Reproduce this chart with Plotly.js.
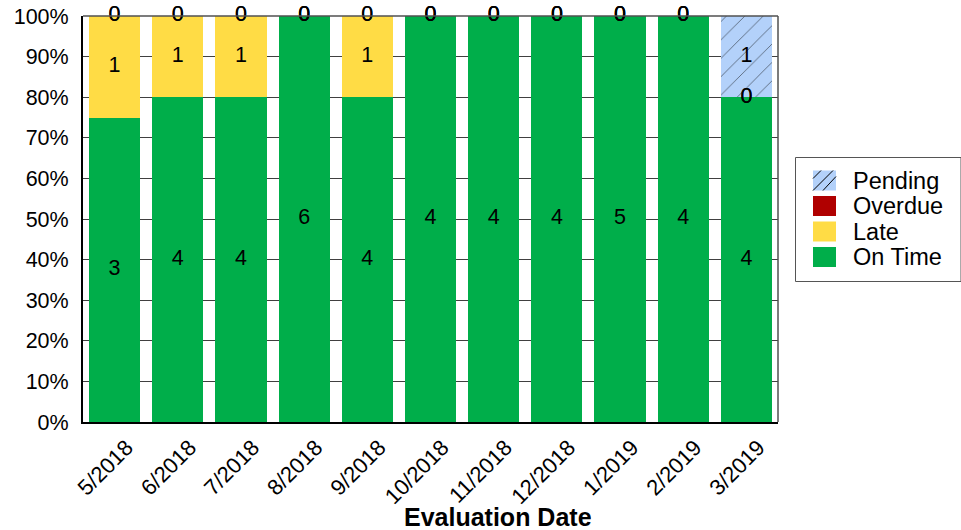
<!DOCTYPE html>
<html>
<head>
<meta charset="utf-8">
<script src="https://cdn.plot.ly/plotly-3.0.1.min.js"></script>
<style>html,body{margin:0;padding:0;background:#fff;}#chart{width:961px;height:530px;}</style>
</head>
<body>
<div id="chart"></div>
<script>
const categories = ["5/2018","6/2018","7/2018","8/2018","9/2018","10/2018","11/2018","12/2018","1/2019","2/2019","3/2019"];
const onTime  = [3,4,4,6,4,4,4,4,5,4,4];
const late    = [1,1,1,0,1,0,0,0,0,0,0];
const overdue = [0,0,0,0,0,0,0,0,0,0,0];
const pending = [0,0,0,0,0,0,0,0,0,0,1];
const yTicks = [0,10,20,30,40,50,60,70,80,90,100];
const seriesNames = ["On Time","Late","Overdue","Pending"];
const seriesColors = ["#00ae4a","#ffdc45","#b00000","#b3d1fa"];

const FONT = "Liberation Sans, Arial, sans-serif";
const W = 961, H = 530, ML = 83, MR = 183, MT = 16, MB = 108;
const PW = W - ML - MR, PH = H - MT - MB;
const px = x => (x - ML) / PW;
const py = y => (H - MB - y) / PH;

const seriesVals = [onTime, late, overdue, pending];
const totals = categories.map((c,i)=>seriesVals.reduce((s,v)=>s+v[i],0));

const traces = [];
seriesVals.forEach((vals,k)=>{
  const t = {type:"bar", name:seriesNames[k], x:categories, y:vals,
    marker:{color:seriesColors[k], line:{width:0}}, hoverinfo:"none", showlegend:false};
  if(seriesNames[k]==="Pending"){
    t.marker.pattern = {shape:"/", bgcolor:seriesColors[k], fgcolor:"#000", size:13, solidity:0.07, fillmode:"overlay"};
  }
  traces.push(t);
});
// value labels at segment midpoints (in percent of the bar total)
const cum = categories.map(()=>0);
seriesVals.forEach(vals=>{
  const ys = vals.map((v,i)=>{ const mid=(cum[i]+v/2)/totals[i]*100; cum[i]+=v; return mid; });
  traces.push({type:"scatter", mode:"text", x:categories, y:ys, text:vals.map(String),
    textfont:{family:FONT, size:21.5, color:"#000"}, showlegend:false, hoverinfo:"none", cliponaxis:false});
});

// legend (drawn as shapes + text)
const shapes = [
  {type:"line", xref:"paper", yref:"paper", x0:0, x1:1, y0:1, y1:1, line:{color:"#505050", width:1.5}},
  {type:"line", xref:"paper", yref:"paper", x0:1, x1:1, y0:0, y1:1, line:{color:"#505050", width:1.5}},
  {type:"rect", xref:"paper", yref:"paper", x0:px(795.5), x1:px(961), y0:py(157.5), y1:py(281.5), line:{color:"#555", width:1}, fillcolor:"rgba(0,0,0,0)"}
];
const annotations = [];
const legendOrder = [3,2,1,0];
const rowCenters = [180.5, 206, 231.5, 257];
legendOrder.forEach((k,r)=>{
  const cy = rowCenters[r];
  const x0 = 813, x1 = 836, y0 = cy-10, y1 = cy+10;
  shapes.push({type:"rect", xref:"paper", yref:"paper", x0:px(x0), x1:px(x1), y0:py(y1), y1:py(y0), fillcolor:seriesColors[k], line:{width:0}});
  if(seriesNames[k]==="Pending"){
    const segs = [[x0,y0+8,x0+8,y0],[x0,y1,x1-3,y0],[x0+10,y1,x1,y0+6]];
    segs.forEach(s=>shapes.push({type:"line", xref:"paper", yref:"paper", x0:px(s[0]), y0:py(s[1]), x1:px(s[2]), y1:py(s[3]), line:{color:"#000", width:1}}));
  }
  annotations.push({text:seriesNames[k], xref:"paper", yref:"paper", x:px(851), y:py(cy), xanchor:"left", yanchor:"middle",
    showarrow:false, font:{family:FONT, size:23.5, color:"#000"}});
});
annotations.push({text:"<b>Evaluation Date</b>", xref:"paper", yref:"paper", x:px(498), y:py(517), showarrow:false,
  xanchor:"center", yanchor:"middle", height:24, valign:"middle", font:{size:25, family:FONT, color:"#000"}});

const layout = {
  width:W, height:H,
  margin:{l:ML, r:MR, t:MT, b:MB},
  barmode:"stack", barnorm:"percent", bargap:0.19,
  paper_bgcolor:"#fff", plot_bgcolor:"#fff",
  font:{family:FONT, size:21, color:"#000"},
  showlegend:false,
  xaxis:{type:"category", range:[-0.5,10.5], tickangle:-45, showline:true, linecolor:"#000", linewidth:2, ticks:"", showgrid:false,
    tickfont:{size:22}, automargin:false, ticklabelshift:12, ticklabelstandoff:2},
  yaxis:{range:[0,100], tickvals:yTicks, ticktext:yTicks.map(v=>v+"%"), showline:true, linecolor:"#000", linewidth:2,
    gridcolor:"#404040", gridwidth:1, ticks:"", zeroline:false, tickfont:{size:21.5}, ticklabelstandoff:8, automargin:false},
  shapes:shapes,
  annotations:annotations
};
Plotly.newPlot("chart", traces, layout, {displayModeBar:false, staticPlot:true});
</script>
</body>
</html>
